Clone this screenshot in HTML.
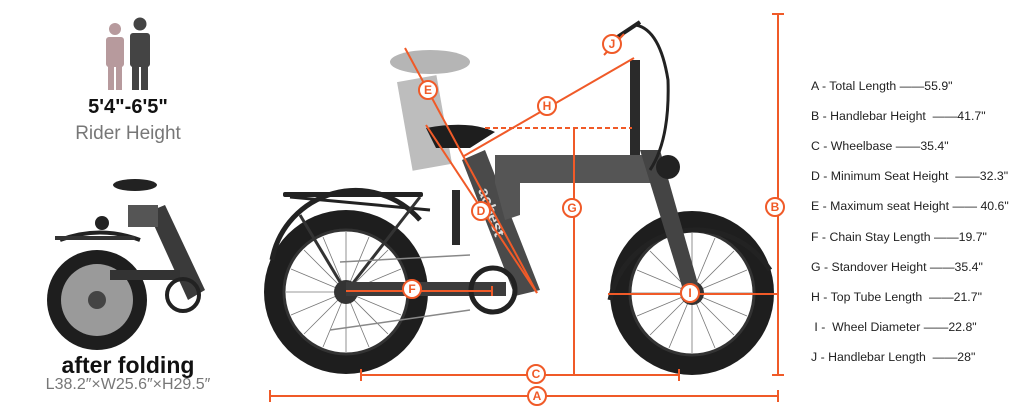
<!DOCTYPE html>
<html><head><meta charset="utf-8"><style>
html,body{margin:0;padding:0;background:#fff;}
body{width:1024px;height:420px;overflow:hidden;position:relative;font-family:"Liberation Sans",sans-serif;}
svg{position:absolute;left:0;top:0;}
.spec{position:absolute;left:811px;font-size:12.3px;color:#222;white-space:nowrap;}
.c{position:absolute;text-align:center;width:200px;left:28px;}
</style></head><body>
<svg width="1024" height="420" viewBox="0 0 1024 420">
<defs>
<g id="wheel">
<circle r="82" fill="#1e1e1e"/>
<circle r="62" fill="#fff"/>
<circle r="62" fill="none" stroke="#333" stroke-width="3"/>
<g stroke="#777" stroke-width="0.8">
<line x1="-60" y1="0" x2="60" y2="0"/><line x1="0" y1="-60" x2="0" y2="60"/>
<line x1="-42" y1="-42" x2="42" y2="42"/><line x1="-42" y1="42" x2="42" y2="-42"/>
<line x1="-55" y1="-23" x2="55" y2="23"/><line x1="-55" y1="23" x2="55" y2="-23"/>
<line x1="-23" y1="-55" x2="23" y2="55"/><line x1="-23" y1="55" x2="23" y2="-55"/>
</g>
<circle r="12" fill="#333"/>
</g>
</defs>
<!-- people -->
<g fill="#b79a9d"><circle cx="115" cy="29" r="6"/><rect x="106" y="37" width="18" height="30" rx="3"/><rect x="108" y="62" width="6" height="28"/><rect x="116" y="62" width="6" height="28"/></g>
<g fill="#444"><circle cx="140" cy="24" r="6.5"/><rect x="130" y="33" width="20" height="34" rx="3"/><rect x="132" y="62" width="7" height="28"/><rect x="141" y="62" width="7" height="28"/></g>
<!-- folded bike -->
<g>
<circle cx="97" cy="300" r="50" fill="#1e1e1e"/><circle cx="97" cy="300" r="36" fill="#9a9a9a"/><circle cx="97" cy="300" r="9" fill="#444"/>
<path d="M60 240 Q100 225 140 240" stroke="#222" stroke-width="4" fill="none"/>
<rect x="55" y="236" width="80" height="4" fill="#333"/>
<polygon points="148,212 165,205 205,290 188,300" fill="#3a3a3a"/>
<rect x="110" y="270" width="70" height="10" fill="#333"/>
<circle cx="183" cy="295" r="16" fill="none" stroke="#222" stroke-width="4"/>
<rect x="128" y="205" width="30" height="22" fill="#555"/>
<ellipse cx="135" cy="185" rx="22" ry="6" fill="#222"/>
<circle cx="102" cy="223" r="7" fill="#222"/>
</g>
<!-- main bike -->
<rect x="404" y="78" width="40" height="90" fill="#bdbdbd" transform="rotate(-10 424 120)"/>
<ellipse cx="430" cy="62" rx="40" ry="12" fill="#b5b5b5"/>
<use href="#wheel" x="346" y="292"/>
<use href="#wheel" x="692" y="293"/>
<path d="M272 260 A85 85 0 0 1 420 220" stroke="#222" stroke-width="5" fill="none"/>
<path d="M610 300 A88 88 0 0 1 770 270" stroke="#222" stroke-width="5" fill="none"/>
<rect x="283" y="192" width="140" height="5" rx="2" fill="#222"/>
<line x1="290" y1="197" x2="430" y2="210" stroke="#222" stroke-width="3"/>
<line x1="300" y1="215" x2="346" y2="292" stroke="#333" stroke-width="3"/>
<line x1="420" y1="197" x2="346" y2="292" stroke="#333" stroke-width="3"/>
<polygon points="462,160 485,150 540,290 515,296" fill="#4a4a4a"/>
<rect x="495" y="155" width="160" height="28" fill="#555"/>
<polygon points="495,183 520,183 520,215 505,220" fill="#555"/>
<polygon points="640,150 660,150 700,291 684,293" fill="#444"/>
<rect x="630" y="60" width="10" height="95" fill="#2a2a2a"/>
<path d="M636 25 Q660 30 668 80 Q670 140 650 170" stroke="#222" stroke-width="3" fill="none"/>
<line x1="610" y1="42" x2="640" y2="22" stroke="#222" stroke-width="4"/>
<circle cx="668" cy="167" r="12" fill="#222"/>
<rect x="346" y="282" width="160" height="14" fill="#3c3c3c"/>
<circle cx="493" cy="290" r="22" fill="none" stroke="#222" stroke-width="5"/>
<rect x="452" y="190" width="8" height="55" fill="#2a2a2a"/>
<path d="M426 128 Q470 120 495 132 L470 148 L436 148 Z" fill="#1e1e1e"/>
<path d="M340 262 L470 255 M330 330 L470 310" stroke="#888" stroke-width="1.5"/>
<text x="0" y="0" transform="translate(478 190) rotate(70)" font-size="16" font-weight="bold" fill="#ddd">acbest</text>
<g stroke="#f05a28" stroke-width="2" fill="none">
<line x1="270" y1="396" x2="778" y2="396"/><line x1="270" y1="390" x2="270" y2="402"/><line x1="778" y1="390" x2="778" y2="402"/>
<line x1="361" y1="375" x2="679" y2="375"/><line x1="361" y1="369" x2="361" y2="381"/><line x1="679" y1="369" x2="679" y2="381"/>
<line x1="778" y1="14" x2="778" y2="375"/><line x1="772" y1="14" x2="784" y2="14"/><line x1="772" y1="375" x2="784" y2="375"/>
<line x1="574" y1="128" x2="574" y2="375"/>
<line x1="485" y1="128" x2="632" y2="128" stroke-dasharray="5,3"/>
<line x1="464" y1="156" x2="634" y2="58"/>
<line x1="405" y1="48" x2="537" y2="293"/>
<line x1="426" y1="125" x2="537" y2="293"/>
<line x1="346" y1="291" x2="492" y2="291"/><line x1="492" y1="286" x2="492" y2="296"/>
<line x1="608" y1="294" x2="777" y2="294"/>
<line x1="604" y1="55" x2="624" y2="34"/>
</g>
<g font-family="Liberation Sans" font-weight="bold" font-size="12" fill="#f05a28" text-anchor="middle">
<g stroke="#f05a28" stroke-width="2" fill="#fff">
<circle cx="537" cy="396" r="9"/><circle cx="536" cy="374" r="9"/><circle cx="775" cy="207" r="9"/><circle cx="572" cy="208" r="9"/>
<circle cx="412" cy="289" r="9"/><circle cx="690" cy="293" r="9"/><circle cx="481" cy="211" r="9"/><circle cx="428" cy="90" r="9"/>
<circle cx="547" cy="106" r="9"/><circle cx="612" cy="44" r="9"/></g>
<text x="537" y="400">A</text><text x="536" y="378">C</text><text x="775" y="211">B</text><text x="572" y="212">G</text>
<text x="412" y="293">F</text><text x="690" y="297">I</text><text x="481" y="215">D</text><text x="428" y="94">E</text>
<text x="547" y="110">H</text><text x="612" y="48">J</text>
</g>
</svg>
<div class="c" style="top:96px;font-size:20px;font-weight:bold;color:#111;">5'4"-6'5"</div>
<div class="c" style="top:123px;font-size:19px;color:#777;">Rider Height</div>
<div class="c" style="top:352px;font-size:23px;font-weight:bold;color:#111;">after folding</div>
<div class="c" style="top:376px;font-size:16px;color:#777;">L38.2″×W25.6″×H29.5″</div>
<div class="spec" style="top:79px">A - Total Length ——55.9"</div>
<div class="spec" style="top:109px">B - Handlebar Height &nbsp;——41.7"</div>
<div class="spec" style="top:139px">C - Wheelbase ——35.4"</div>
<div class="spec" style="top:169px">D - Minimum Seat Height &nbsp;——32.3"</div>
<div class="spec" style="top:199px">E - Maximum seat Height —— 40.6"</div>
<div class="spec" style="top:230px">F - Chain Stay Length ——19.7"</div>
<div class="spec" style="top:260px">G - Standover Height ——35.4"</div>
<div class="spec" style="top:290px">H - Top Tube Length &nbsp;——21.7"</div>
<div class="spec" style="top:320px">&nbsp;I - &nbsp;Wheel Diameter ——22.8"</div>
<div class="spec" style="top:350px">J - Handlebar Length &nbsp;——28"</div>
</body></html>
